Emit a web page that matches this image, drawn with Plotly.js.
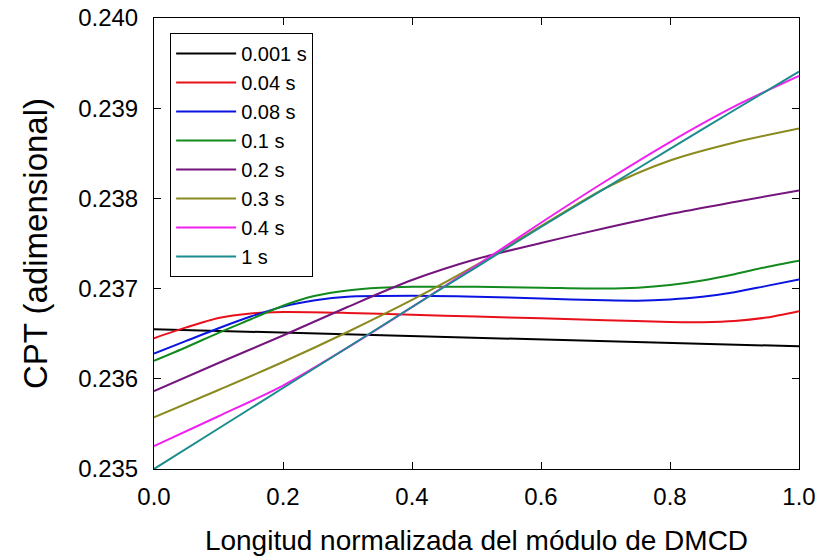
<!DOCTYPE html>
<html>
<head>
<meta charset="utf-8">
<script src="https://cdn.plot.ly/plotly-3.0.1.min.js"></script>
<style>
  html, body { margin: 0; padding: 0; background: #ffffff; }
  #chart { width: 819px; height: 560px; }
</style>
</head>
<body>
<div id="chart"></div>
<script>
// Normalised position along the DMCD module
const xGrid  = [0.0, 0.1, 0.2, 0.3, 0.4, 0.5, 0.6, 0.7, 0.8, 0.9, 1.0];
const xEnds  = [0.0, 1.0];
const xRed   = [0.0, 0.05, 0.1, 0.15, 0.2, 0.3, 0.4, 0.5, 0.6, 0.7, 0.8, 0.85, 0.9, 0.95, 1.0];
const xBlue  = [0.0, 0.05, 0.1, 0.15, 0.2, 0.25, 0.3, 0.4, 0.5, 0.6, 0.7, 0.75, 0.8, 0.85, 0.9, 0.95, 1.0];
const xGreen = [0.0, 0.05, 0.1, 0.15, 0.2, 0.25, 0.3, 0.35, 0.4, 0.5, 0.6, 0.7, 0.75, 0.8, 0.85, 0.9, 0.95, 1.0];

// CPT profiles for each time instant
const cpt_t0001 = [0.23655, 0.23636];
const cpt_t004  = [0.23645, 0.23657, 0.236675, 0.236725, 0.23674, 0.23673, 0.23671, 0.23669, 0.23667, 0.23665, 0.23663, 0.236628, 0.23664, 0.23668, 0.23675];
const cpt_t008  = [0.23628, 0.23642, 0.23656, 0.23669, 0.23680, 0.23687, 0.23691, 0.23692, 0.23691, 0.23689, 0.23687, 0.236866, 0.23688, 0.23691, 0.23696, 0.23703, 0.23710];
const cpt_t01   = [0.23620, 0.23635, 0.23651, 0.23666, 0.23681, 0.23692, 0.23698, 0.23701, 0.23702, 0.23702, 0.23701, 0.23700, 0.23701, 0.23704, 0.23709, 0.23716, 0.23724, 0.23731];
const cpt_t02   = [0.235865, 0.236175, 0.236480, 0.236796, 0.237095, 0.237328, 0.237506, 0.237672, 0.237827, 0.237960, 0.238088];
const cpt_t03   = [0.235573, 0.235876, 0.236186, 0.236519, 0.236874, 0.237262, 0.237694, 0.238115, 0.238420, 0.238620, 0.238775];
const cpt_t04   = [0.235255, 0.235585, 0.235925, 0.236345, 0.236795, 0.237255, 0.237730, 0.238190, 0.238625, 0.239020, 0.239357];
const cpt_t1    = [0.235000, 0.235449, 0.235898, 0.236347, 0.236796, 0.237239, 0.237683, 0.238115, 0.238548, 0.238980, 0.239407];

const seriesNames  = ['0.001 s', '0.04 s', '0.08 s', '0.1 s', '0.2 s', '0.3 s', '0.4 s', '1 s'];
const seriesX      = [xEnds, xRed, xBlue, xGreen, xGrid, xGrid, xGrid, xGrid];
const seriesY      = [cpt_t0001, cpt_t004, cpt_t008, cpt_t01, cpt_t02, cpt_t03, cpt_t04, cpt_t1];
const seriesColors = ['#000000', '#e8101a', '#0a14e0', '#128a1e', '#74157e', '#8a8a1e', '#f020f0', '#1a8c8c'];

const FONT = 'Arial, "Liberation Sans", sans-serif';

const traces = seriesNames.map((name, i) => ({
  type: 'scatter',
  mode: 'lines',
  name: name,
  x: seriesX[i],
  y: seriesY[i],
  line: { color: seriesColors[i], width: 2, shape: 'spline', smoothing: 0.8 }
}));

const axisCommon = {
  showline: true,
  linecolor: '#000000',
  linewidth: 1,
  mirror: 'ticks',
  ticks: 'inside',
  ticklen: 7,
  tickwidth: 1,
  tickcolor: '#000000',
  showgrid: false,
  zeroline: false,
  tickfont: { family: FONT, size: 24, color: '#000000' }
};

const layout = {
  width: 819,
  height: 560,
  margin: { l: 154, r: 20, t: 18, b: 91 },
  paper_bgcolor: '#ffffff',
  plot_bgcolor: '#ffffff',
  showlegend: true,
  xaxis: Object.assign({}, axisCommon, {
    range: [0, 1],
    dtick: 0.2,
    tick0: 0,
    tickformat: '.1f',
    ticklabelstandoff: 6,
    title: { text: 'Longitud normalizada del módulo de DMCD', font: { family: FONT, size: 28, color: '#000000' }, standoff: 21 }
  }),
  yaxis: Object.assign({}, axisCommon, {
    range: [0.235, 0.240],
    dtick: 0.001,
    tick0: 0.235,
    tickformat: '.3f',
    ticklabelstandoff: 10,
    title: { text: 'CPT (adimensional)', font: { family: FONT, size: 33, color: '#000000' }, standoff: 20 }
  }),
  legend: {
    x: 0.025,
    y: 0.9667,
    xanchor: 'left',
    yanchor: 'top',
    bgcolor: '#ffffff',
    bordercolor: '#000000',
    borderwidth: 1,
    font: { family: FONT, size: 20, color: '#000000' },
    itemwidth: 60,
    tracegroupgap: 0
  }
};

Plotly.newPlot('chart', traces, layout, { displayModeBar: false, staticPlot: true });
</script>
</body>
</html>
